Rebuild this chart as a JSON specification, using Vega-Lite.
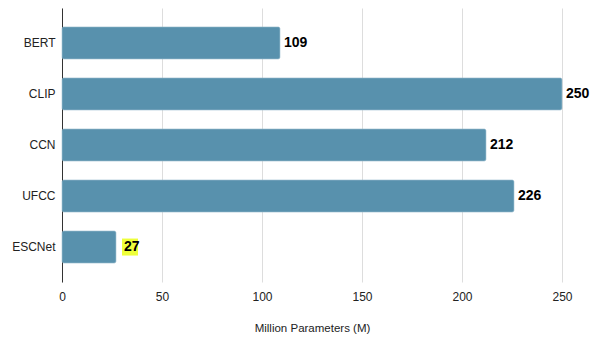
{
  "$schema": "https://vega.github.io/schema/vega-lite/v6.json",
  "width": 500,
  "height": 274,
  "autosize": {"type": "none"},
  "padding": {"left": 62, "top": 8, "right": 38, "bottom": 57},
  "background": "white",
  "data": {
    "values": [
      {"model": "BERT", "params": 109, "highlight": false},
      {"model": "CLIP", "params": 250, "highlight": false},
      {"model": "CCN", "params": 212, "highlight": false},
      {"model": "UFCC", "params": 226, "highlight": false},
      {"model": "ESCNet", "params": 27, "highlight": true}
    ]
  },
  "config": {
    "view": {"stroke": null},
    "font": "Liberation Sans"
  },
  "encoding": {
    "y": {
      "field": "model",
      "type": "nominal",
      "sort": null,
      "scale": {"paddingInner": 0.37, "paddingOuter": 0.37},
      "axis": {
        "title": null,
        "domainColor": "#333333",
        "domainWidth": 1,
        "ticks": false,
        "labelFontSize": 12,
        "labelColor": "#222222",
        "labelPadding": 7
      }
    },
    "x": {
      "field": "params",
      "type": "quantitative",
      "scale": {"domain": [0, 250], "nice": false},
      "axis": {
        "title": "Million Parameters (M)",
        "titleFontSize": 11.5,
        "titleFontWeight": "normal",
        "titleColor": "#222222",
        "titlePadding": 20,
        "values": [0, 50, 100, 150, 200, 250],
        "domain": false,
        "ticks": false,
        "grid": true,
        "gridColor": "#dddddd",
        "labelFlush": false,
        "labelFontSize": 12,
        "labelColor": "#222222",
        "labelPadding": 9
      }
    }
  },
  "layer": [
    {
      "mark": {"type": "bar", "color": "#5891ad", "cornerRadius": 2, "stroke": "#8fb4c8", "strokeWidth": 0.5}
    },
    {
      "transform": [{"filter": "datum.highlight"}],
      "mark": {"type": "bar", "color": "#eeff3a", "height": 17, "xOffset": 6, "x2Offset": 22},
      "encoding": {
        "x2": {"field": "params"}
      }
    },
    {
      "transform": [{"filter": "!datum.highlight"}],
      "mark": {"type": "text", "align": "left", "dx": 4, "fontSize": 14, "fontWeight": "bold", "color": "#000000"},
      "encoding": {"text": {"field": "params", "type": "quantitative"}}
    },
    {
      "transform": [{"filter": "datum.highlight"}],
      "mark": {"type": "text", "align": "left", "dx": 8, "fontSize": 14, "fontWeight": "bold", "color": "#000000"},
      "encoding": {"text": {"field": "params", "type": "quantitative"}}
    }
  ]
}
